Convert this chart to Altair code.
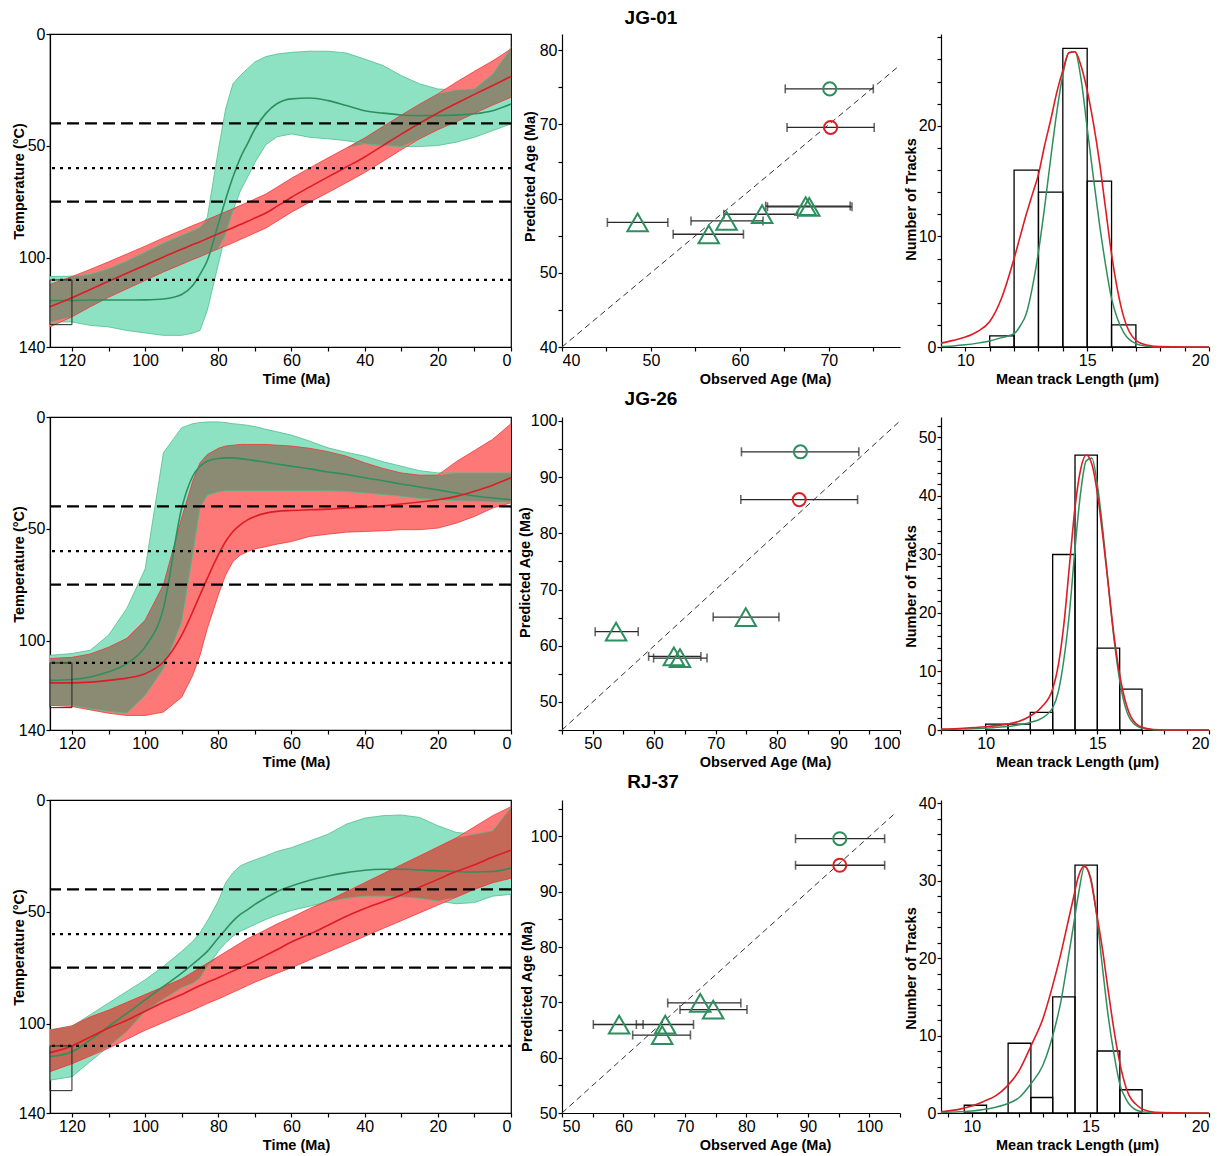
import altair as alt
import numpy as np
import pandas as pd

FONT = "Liberation Sans"
GREEN_FILL = "#8DE2C4"
GREEN_EDGE = "#4FBF8C"
GREEN_LINE = "#2E8F5E"
RED_FILL = "#FF7878"
RED_EDGE = "#EE3A3A"
RED_LINE = "#DD1C24"
GRAY_OVERLAP = "#8B8B74"
BROWN_OVERLAP = "#C46858"

# ---------------- thermal histories (time grid, Ma) ----------------
TIMES = [126, 120, 115, 110, 105, 100, 95, 90, 87, 85, 83, 80, 78, 76, 74, 72,
         70, 67, 64, 60, 55, 50, 45, 40, 35, 30, 25, 20, 15, 10, 5, 0]

# JG-01
JG01_G_LO = [108.5, 108.3, 107.5, 105, 101.5, 97.5, 93.5, 90, 88, 86.5, 82, 52, 33.5, 22.3, 18.6, 15.5,
             12.5, 10.1, 9, 8.2, 7.7, 7.7, 8.5, 11.2, 14.1, 18.6, 22.3, 24.6, 25, 24.6, 17.9, 6]
JG01_G_HI = [128.8, 128.8, 130.3, 131, 132.6, 133.7, 134.8, 134.8, 133.8, 132.6, 123.6, 103, 89.5, 79, 70.3, 64,
             57.5, 49.5, 46, 44.7, 46.2, 46.9, 47.7, 49.1, 49.9, 50.3, 50.3, 49.9, 48.4, 46.2, 43.2, 40.2]
JG01_G_BEST = [119.2, 119.2, 119, 119, 119, 118.9, 118.5, 116.5, 112.5, 107.5, 101.3, 85, 74, 64, 55.5, 49,
               42.5, 35.5, 31.2, 29, 28.6, 29.8, 32, 34.3, 35.4, 36.2, 36.5, 36.5, 36.3, 35.7, 34.3, 31.3]
JG01_R_LO = [112, 108.5, 105.3, 101.9, 98.4, 94.9, 91.2, 87.8, 85.7, 84.4, 83, 80.9, 79.5, 78.2, 76.7, 75.3,
             73.8, 71.6, 68.6, 64.5, 59.9, 55.4, 51, 46.5, 41.4, 36.3, 31.4, 26.8, 21.6, 16.7, 12, 6.7]
JG01_R_HI = [131, 126.5, 122, 117.8, 114, 110.2, 106.4, 103, 100.9, 99.6, 98.2, 96.1, 94.7, 93.4, 91.9, 90.5,
             89, 86.8, 83.8, 79.7, 75.2, 70.9, 66.5, 62, 56.9, 51.8, 46.9, 42.8, 39.3, 35.5, 31.8, 28.3]
JG01_R_BEST = [122, 118, 114.3, 110.6, 107, 103.4, 99.7, 96.3, 94.2, 92.9, 91.5, 89.4, 88, 86.7, 85.2, 83.8,
               82.3, 80.1, 77.1, 73, 68.4, 63.9, 59.5, 55, 49.9, 44.8, 39.9, 35.3, 31.1, 27, 23, 19]

# JG-26
JG26_G_LO = [106.6, 105.8, 104.3, 97.6, 85.6, 68, 16, 4.8, 3, 2.5, 2.2, 2.2, 2.5, 3, 3.3, 3.7,
             4.3, 5.5, 6.6, 8.1, 10.8, 13.8, 15.8, 17.5, 20, 22, 24, 25, 25, 25, 25, 25]
JG26_G_HI = [129, 129, 130.5, 131.7, 132.5, 124.6, 112.6, 91.6, 61.7, 40.7, 35, 33.5, 33, 33, 33, 33,
             33, 33, 33, 33, 33, 33, 33.3, 34, 34.7, 35.5, 36.5, 37, 37.5, 37.7, 38, 38]
JG26_G_BEST = [117.8, 117.4, 116.3, 114, 110.3, 102.8, 85.6, 40.7, 26.5, 22, 19.8, 18.6, 18.3, 18.3, 18.6, 19,
               19.5, 20.2, 21, 22, 23.2, 24.6, 25.7, 27.2, 28.5, 30, 31.3, 32.6, 34, 35.3, 36.2, 37]
JG26_R_LO = [108, 107.5, 106, 103, 99, 90.9, 75, 45, 28.7, 20.5, 16.8, 14, 13, 12.6, 12.3, 12.3,
             12.3, 12.3, 12.6, 13, 14, 15.5, 17.5, 20.5, 23, 25, 26, 26, 20, 15, 10, 3]
JG26_R_HI = [129, 129.5, 131, 132.5, 133.5, 133.5, 132, 125.3, 115.6, 106.6, 94.6, 79.6, 70.7, 64.7, 61.7, 60.2,
             59, 58, 56.9, 55.7, 53.4, 52.4, 51.5, 51.2, 50.9, 50.4, 50.4, 49.7, 47.5, 44.5, 40.7, 38.4]
JG26_R_BEST = [118.9, 118.9, 118.6, 117.8, 116.8, 114.8, 109.6, 97.6, 87.1, 79.6, 72.2, 61.7, 55.7, 51.2, 48.2, 46,
               44.5, 43, 42.2, 41.8, 41.5, 41.2, 40.7, 40.3, 39.7, 38.9, 38, 37, 35.5, 33.2, 30.5, 27.2]

# RJ-37
RJ37_G_LO = [102.7, 101.2, 96, 90.8, 85.6, 80.4, 74.4, 67.7, 63.2, 59.4, 54.2, 45.2, 37, 32.5, 29.5, 28,
             26.8, 25, 23, 21.3, 18.3, 15.3, 10.8, 8.1, 7, 6.7, 7.8, 11.5, 14.5, 15.3, 13.8, 3.3]
RJ37_G_HI = [125.3, 123.8, 117, 110.3, 103.6, 94.5, 89, 84, 82, 79.6, 74.4, 67.7, 63.9, 60.9, 58.7, 57.2,
             55.7, 53.4, 51.5, 49.4, 47.5, 45.5, 44, 43, 43, 43.4, 44, 45.2, 46.4, 45.9, 43, 42.2]
RJ37_G_BEST = [114.8, 112.6, 107.3, 101.3, 95.4, 89.4, 83.4, 77.4, 73.4, 70.7, 67.7, 61.7, 57.9, 54.2, 51.2, 49,
               46.7, 43.7, 41, 38.5, 35.9, 34, 32.5, 31.4, 31, 31, 31.3, 31.7, 32, 32.2, 32, 30.5]
RJ37_R_LO = [103, 101, 97, 94, 90.5, 87, 83.5, 80, 77, 75, 73, 70, 68, 66, 64, 62,
             60.5, 58, 55.5, 52.5, 48.5, 45, 41, 37, 33, 29, 25, 21, 17, 12, 7, 3]
RJ37_R_HI = [121.5, 118, 114.5, 111, 107, 103, 99.5, 96, 94, 92.5, 91, 89, 87.5, 86, 84.5, 83,
             81.5, 79.5, 77.5, 75, 71.5, 68, 64.5, 61, 57.5, 54, 50.5, 47, 43.5, 40, 37, 35]
RJ37_R_BEST = [113, 110, 106, 102, 98.5, 94.5, 90.5, 87, 84.5, 83, 81.5, 79.5, 78, 76.5, 75, 73.5,
               72, 69.5, 67, 63.5, 60, 56, 52, 48.5, 45.5, 42.5, 39, 35.5, 32, 29, 25.5, 22.5]

PRZ_LINES = [40, 75]       # dashed
PAZ_LINES = [60, 110]      # dotted
BOX_T = [126, 120]
BOX_TEMP = [110, 130]

# ---------------- observed vs predicted ages ----------------
JG01_OBS = [70.1, 70.2, 48.5, 56.5, 58.5, 62.5, 67.4, 67.8]
JG01_PRED = [74.8, 69.6, 56.8, 55.2, 57.0, 57.9, 59.0, 58.9]
JG01_ERR_LO = [65.1, 65.3, 45.1, 52.5, 54.5, 58.2, 62.9, 63.1]
JG01_ERR_HI = [75.0, 75.1, 51.9, 60.4, 62.6, 66.5, 72.4, 72.6]
JG01_KIND = ["circle", "circle", "triangle", "triangle", "triangle", "triangle", "triangle", "triangle"]
JG01_MODEL = ["green", "red", "green", "green", "green", "green", "green", "green"]

JG26_OBS = [83.8, 83.6, 53.8, 74.9, 63.2, 64.2]
JG26_PRED = [94.5, 86.0, 62.5, 65.1, 58.1, 57.8]
JG26_ERR_LO = [74.2, 74.1, 50.4, 69.6, 59.1, 59.9]
JG26_ERR_HI = [93.3, 93.1, 57.4, 80.3, 67.6, 68.6]
JG26_KIND = ["circle", "circle", "triangle", "triangle", "triangle", "triangle"]
JG26_MODEL = ["green", "red", "green", "green", "green", "green"]

RJ37_OBS = [95.2, 95.2, 59.3, 66.8, 66.3, 72.5, 74.6]
RJ37_PRED = [99.6, 94.8, 66.0, 66.0, 64.1, 69.9, 68.7]
RJ37_ERR_LO = [88.0, 88.0, 55.1, 62.1, 61.5, 67.2, 69.2]
RJ37_ERR_HI = [102.5, 102.5, 63.2, 71.4, 70.9, 79.1, 80.1]
RJ37_KIND = ["circle", "circle", "triangle", "triangle", "triangle", "triangle", "triangle"]
RJ37_MODEL = ["green", "red", "green", "green", "green", "green", "green"]

# ---------------- track length distributions ----------------
JG01_BIN_LO = [11, 12, 13, 14, 15, 16]
JG01_BIN_HI = [12, 13, 14, 15, 16, 17]
JG01_COUNT = [1, 16, 14, 27, 15, 2]
JG01_L = [9, 9.5, 10, 10.5, 11, 11.5, 12, 12.25, 12.5, 12.75, 13, 13.25, 13.5, 13.75, 14, 14.25,
          14.5, 14.75, 15, 15.25, 15.5, 15.75, 16, 16.25, 16.5, 17, 17.5, 18, 19, 20]
JG01_RED = [0.35, 0.6, 0.9, 1.4, 2.3, 4.5, 8.0, 10.0, 12.0, 13.8, 15.6, 18.2, 20.5, 23.0, 25.0, 26.6,
            26.7, 25.4, 23.2, 20.3, 16.8, 12.6, 8.4, 5.1, 2.7, 0.6, 0.15, 0.03, 0, 0]
JG01_GREEN = [0.05, 0.1, 0.2, 0.35, 0.55, 0.85, 1.2, 1.9, 3.0, 5.4, 8.6, 12.6, 17.0, 21.2, 24.6, 26.6,
              26.7, 24.2, 19.8, 15.4, 11.2, 7.5, 4.4, 2.5, 1.3, 0.3, 0.05, 0, 0, 0]

JG26_BIN_LO = [10, 11, 12, 13, 14, 15, 16]
JG26_BIN_HI = [11, 12, 13, 14, 15, 16, 17]
JG26_COUNT = [1, 1, 3, 30, 47, 14, 7]
JG26_L = [8, 9, 10, 10.5, 11, 11.5, 12, 12.5, 13, 13.25, 13.5, 13.75, 14, 14.25, 14.5, 14.75,
          15, 15.25, 15.5, 15.75, 16, 16.25, 16.5, 17, 17.5, 18, 19, 20]
JG26_RED = [0.15, 0.3, 0.55, 0.75, 1.0, 1.5, 2.4, 3.9, 7.0, 11, 18, 28, 38, 44.5, 47, 45.5,
            40.5, 33, 24.5, 16, 9.5, 5, 2.3, 0.45, 0.08, 0.01, 0, 0]
JG26_GREEN = [0.05, 0.15, 0.3, 0.45, 0.6, 0.9, 1.3, 2.0, 3.8, 6.5, 12, 20, 31, 40.5, 46, 46.5,
              42, 34, 24.5, 15.5, 8.5, 4, 1.7, 0.3, 0.05, 0, 0, 0]

RJ37_BIN_LO = [9.68, 10.62, 11.53, 12.49, 13.41, 14.35, 15.29, 16.24]
RJ37_BIN_HI = [10.62, 11.53, 12.49, 13.41, 14.35, 15.29, 16.24, 17.18]
RJ37_COUNT = [1, 0, 9, 2, 15, 32, 8, 3]
RJ37_L = [8.7, 9.5, 10, 10.5, 11, 11.5, 12, 12.5, 13, 13.5, 13.75, 14, 14.25, 14.5, 14.75, 15,
          15.25, 15.5, 15.75, 16, 16.25, 16.5, 17, 17.5, 18, 19, 20]
RJ37_RED = [0.17, 0.5, 0.9, 1.5, 2.2, 3.5, 5.5, 8.7, 12.2, 17.5, 20.5, 23.9, 27.3, 30.6, 31.9, 30.3,
            26, 21.3, 15.8, 10.6, 6.3, 3.3, 0.9, 0.2, 0.05, 0, 0]
RJ37_GREEN = [0.05, 0.15, 0.25, 0.45, 0.75, 1.2, 2.0, 3.8, 6.2, 11, 14.3, 18.8, 23.5, 28.3, 31.8, 30.5,
              25.8, 19, 12.5, 7.5, 3.6, 1.8, 0.3, 0.04, 0, 0, 0]

PANEL_H = 313
LEFT_W, MID_W, RIGHT_W = 461, 338, 268


def left_panel(g_lo, g_hi, g_best, r_lo, r_hi, r_best, overlap_color):
    df = pd.DataFrame({"t": TIMES, "g_lo": g_lo, "g_hi": g_hi, "g_best": g_best,
                       "r_lo": r_lo, "r_hi": r_hi, "r_best": r_best})
    df["o_lo"] = np.maximum(df["g_lo"], df["r_lo"])
    df["o_hi"] = np.maximum(df["o_lo"], np.minimum(df["g_hi"], df["r_hi"]))
    xs = alt.Scale(domain=[0, 126], reverse=True, nice=False, zero=False)
    ys = alt.Scale(domain=[0, 140], reverse=True, nice=False, zero=False)
    xax = alt.Axis(title="Time (Ma)", values=list(range(0, 121, 10)),
                   labelExpr="datum.value % 20 === 0 ? datum.label : ''",
                   titleX=246, titleY=32, titleBaseline="middle", titleAlign="center")
    yax = alt.Axis(title="Temperature (°C)", values=[0, 50, 100, 140],
                   titleX=-31, titleY=147, titleBaseline="middle", titleAlign="center")

    def X(f):
        return alt.X(f, type="quantitative", scale=xs, axis=xax)

    def Y(f):
        return alt.Y(f, type="quantitative", scale=ys, axis=yax)

    base = alt.Chart(df)
    layers = [
        base.mark_area(color=GREEN_FILL).encode(x=X("t"), y=Y("g_lo"), y2="g_hi"),
        base.mark_area(color=RED_FILL).encode(x=X("t"), y=Y("r_lo"), y2="r_hi"),
        base.mark_area(color=overlap_color).encode(x=X("t"), y=Y("o_lo"), y2="o_hi"),
        base.mark_line(color=GREEN_EDGE, strokeWidth=0.8).encode(x=X("t"), y=Y("g_lo")),
        base.mark_line(color=GREEN_EDGE, strokeWidth=0.8).encode(x=X("t"), y=Y("g_hi")),
        base.mark_line(color=RED_EDGE, strokeWidth=0.8).encode(x=X("t"), y=Y("r_lo")),
        base.mark_line(color=RED_EDGE, strokeWidth=0.8).encode(x=X("t"), y=Y("r_hi")),
        base.mark_line(color=GREEN_LINE, strokeWidth=1.6, interpolate="monotone").encode(x=X("t"), y=Y("g_best")),
        base.mark_line(color=RED_LINE, strokeWidth=1.6, interpolate="monotone").encode(x=X("t"), y=Y("r_best")),
    ]
    dash_df = pd.DataFrame({"T": PRZ_LINES})
    dot_df = pd.DataFrame({"T": PAZ_LINES})
    layers.append(alt.Chart(dash_df).mark_rule(color="black", strokeWidth=2.3, strokeDash=[12, 6]).encode(y=Y("T")))
    layers.append(alt.Chart(dot_df).mark_rule(color="black", strokeWidth=2.3, strokeDash=[3, 5]).encode(y=Y("T")))
    box_df = pd.DataFrame({"t0": [BOX_T[0]], "t1": [BOX_T[1]], "T0": [BOX_TEMP[0]], "T1": [BOX_TEMP[1]]})
    layers.append(alt.Chart(box_df).mark_rect(fillOpacity=0, stroke="#222222", strokeWidth=1)
                  .encode(x=X("t0"), x2="t1", y=Y("T0"), y2="T1"))
    return alt.layer(*layers).properties(
        width=LEFT_W, height=PANEL_H,
        view=alt.ViewBackground(stroke="black", strokeWidth=1.2))


def mid_panel(obs, pred, lo, hi, kind, model, xdom, ydom, diag, title, dx, toff, ytx, yty):
    df = pd.DataFrame({"obs": obs, "pred": pred, "lo": lo, "hi": hi, "kind": kind, "model": model})
    xs = alt.Scale(domain=xdom, nice=False, zero=False)
    ys = alt.Scale(domain=ydom, nice=False, zero=False)
    xt = [v for v in range(0, 200, 5) if xdom[0] <= v <= xdom[1]]
    yt = [v for v in range(0, 200, 5) if ydom[0] <= v <= ydom[1]]
    xax = alt.Axis(title="Observed Age (Ma)", values=xt,
                   labelExpr="datum.value % 10 === 0 ? datum.label : ''",
                   titleX=203, titleY=32, titleBaseline="middle", titleAlign="center")
    yax = alt.Axis(title="Predicted Age (Ma)", values=yt,
                   labelExpr="datum.value % 10 === 0 ? datum.label : ''",
                   titleX=ytx, titleY=yty, titleBaseline="middle", titleAlign="center")

    def X(f):
        return alt.X(f, type="quantitative", scale=xs, axis=xax)

    def Y(f):
        return alt.Y(f, type="quantitative", scale=ys, axis=yax)

    base = alt.Chart(df)
    diag_df = pd.DataFrame({"d": diag})
    layers = [
        alt.Chart(diag_df).mark_line(color="#333333", strokeWidth=1, strokeDash=[6, 4]).encode(x=X("d"), y=Y("d")),
        base.mark_rule(color="#2a2a2a", strokeWidth=1.3).encode(x=X("lo"), x2="hi", y=Y("pred")),
        base.mark_tick(orient="vertical", size=9, thickness=1.6, color="#2a2a2a").encode(x=X("lo"), y=Y("pred")),
        base.mark_tick(orient="vertical", size=9, thickness=1.6, color="#2a2a2a").encode(x=X("hi"), y=Y("pred")),
        base.mark_point(filled=False, strokeWidth=2, opacity=1).encode(
            x=X("obs"), y=Y("pred"),
            shape=alt.Shape("kind:N", scale=alt.Scale(domain=["circle", "triangle"], range=["circle", "triangle-up"]), legend=None),
            color=alt.Color("model:N", scale=alt.Scale(domain=["green", "red"], range=[GREEN_LINE, RED_LINE]), legend=None),
            size=alt.Size("kind:N", scale=alt.Scale(domain=["circle", "triangle"], range=[170, 420]), legend=None),
        ),
    ]
    return alt.layer(*layers).properties(
        width=MID_W, height=PANEL_H,
        title=alt.TitleParams(title, font=FONT, fontSize=19, fontWeight="bold", color="black",
                              anchor="middle", frame="group", dx=dx, offset=toff))


def right_panel(b0, b1, n, L, green, red, xdom, ydom, yty):
    hist = pd.DataFrame({"b0": b0, "b1": b1, "n": n})
    curves = pd.DataFrame({"L": L, "green": green, "red": red})
    xs = alt.Scale(domain=xdom, nice=False, zero=False)
    ys = alt.Scale(domain=ydom, nice=False, zero=False)
    xt = [v for v in range(0, 25) if xdom[0] <= v <= xdom[1]]
    yt = list(range(0, int(ydom[1]) + 1, 2))
    xax = alt.Axis(title="Mean track Length (µm)", values=xt,
                   labelExpr="datum.value % 5 === 0 ? datum.label : ''",
                   titleX=136, titleY=32, titleBaseline="middle", titleAlign="center")
    yax = alt.Axis(title="Number of Tracks", values=yt,
                   labelExpr="datum.value % 10 === 0 ? datum.label : ''",
                   titleX=-30, titleY=yty, titleBaseline="middle", titleAlign="center")

    def X(f):
        return alt.X(f, type="quantitative", scale=xs, axis=xax)

    def Y(f):
        return alt.Y(f, type="quantitative", scale=ys, axis=yax)

    layers = [
        alt.Chart(hist).mark_rect(fillOpacity=0, stroke="black", strokeWidth=1.3)
        .encode(x=X("b0"), x2="b1", y=Y("n"), y2=alt.datum(0)),
        alt.Chart(curves).mark_line(color=GREEN_LINE, strokeWidth=1.5, interpolate="monotone")
        .encode(x=X("L"), y=Y("green")),
        alt.Chart(curves).mark_line(color=RED_LINE, strokeWidth=1.6, interpolate="monotone")
        .encode(x=X("L"), y=Y("red")),
    ]
    return alt.layer(*layers).properties(width=RIGHT_W, height=PANEL_H)


def spacer(w):
    return alt.Chart(pd.DataFrame({"s": [0]})).mark_point(opacity=0).encode(
        x=alt.X("s:Q", axis=None), y=alt.Y("s:Q", axis=None)).properties(width=w, height=PANEL_H)


row1 = [
    left_panel(JG01_G_LO, JG01_G_HI, JG01_G_BEST, JG01_R_LO, JG01_R_HI, JG01_R_BEST, GRAY_OVERLAP),
    spacer(51),
    mid_panel(JG01_OBS, JG01_PRED, JG01_ERR_LO, JG01_ERR_HI, JG01_KIND, JG01_MODEL,
              [40, 78], [40, 82.2], [40, 78], "JG-01", -80, 6, -32, 142),
    spacer(41),
    right_panel(JG01_BIN_LO, JG01_BIN_HI, JG01_COUNT, JG01_L, JG01_GREEN, JG01_RED, [9, 20], [0, 28.3], 165),
]
row2 = [
    left_panel(JG26_G_LO, JG26_G_HI, JG26_G_BEST, JG26_R_LO, JG26_R_HI, JG26_R_BEST, GRAY_OVERLAP),
    spacer(51),
    mid_panel(JG26_OBS, JG26_PRED, JG26_ERR_LO, JG26_ERR_HI, JG26_KIND, JG26_MODEL,
              [45, 100], [45, 100.7], [45, 100], "JG-26", -80, 4, -37, 155),
    spacer(41),
    right_panel(JG26_BIN_LO, JG26_BIN_HI, JG26_COUNT, JG26_L, JG26_GREEN, JG26_RED, [8, 20], [0, 53.5], 169),
]
row3 = [
    left_panel(RJ37_G_LO, RJ37_G_HI, RJ37_G_BEST, RJ37_R_LO, RJ37_R_HI, RJ37_R_BEST, BROWN_OVERLAP),
    spacer(51),
    mid_panel(RJ37_OBS, RJ37_PRED, RJ37_ERR_LO, RJ37_ERR_HI, RJ37_KIND, RJ37_MODEL,
              [50, 105], [50, 106.6], [50, 104], "RJ-37", -78, 8, -35, 186),
    spacer(41),
    right_panel(RJ37_BIN_LO, RJ37_BIN_HI, RJ37_COUNT, RJ37_L, RJ37_GREEN, RJ37_RED, [8.7, 20], [0, 40.4], 168),
]

chart = alt.concat(*(row1 + row2 + row3), columns=5,
                   spacing={"row": 70, "column": 0}, bounds="flush").properties(
    padding={"left": 2, "top": 0, "right": 0, "bottom": 0}
).configure_view(stroke="transparent").configure_axis(
    labelFont=FONT, titleFont=FONT, labelFontSize=16, titleFontSize=14.5, titleFontWeight="bold",
    labelColor="black", titleColor="black", domainColor="black", tickColor="black",
    tickSize=4, labelPadding=1, grid=False, domainWidth=1.2, tickWidth=1.2
).configure_title(font=FONT)

chart.save("out.html", embed_options={"renderer": "svg", "actions": False})
